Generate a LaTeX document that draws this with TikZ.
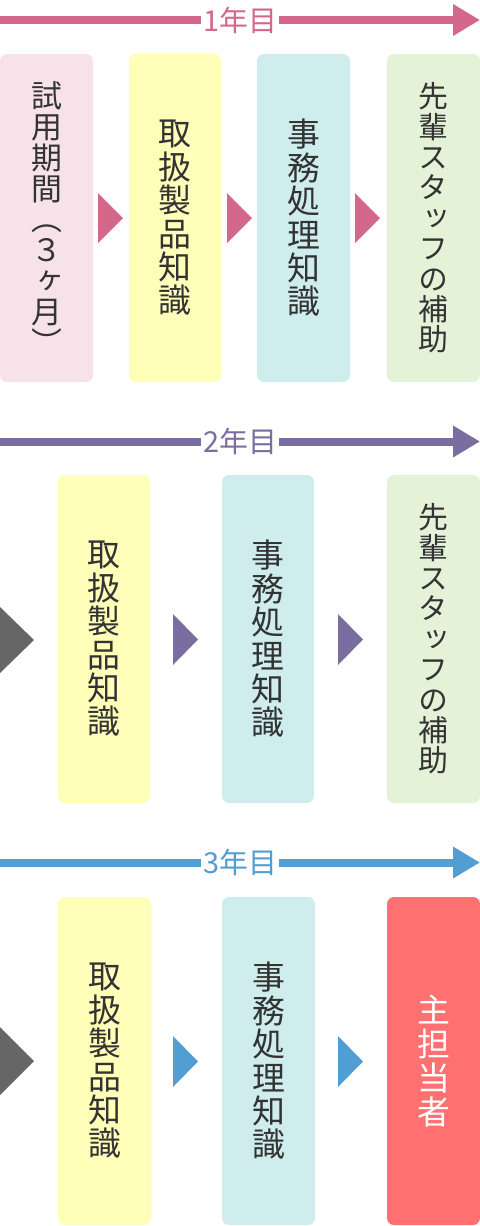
\documentclass[tikz,border=0pt]{standalone}
\usepackage{fontspec}
\usetikzlibrary{arrows.meta}
\newfontfamily\jp{Noto Sans CJK JP}
\newfontfamily\jpv[RawFeature=+vert]{Noto Sans CJK JP}
\definecolor{pinkline}{HTML}{D4688A}
\definecolor{purpleline}{HTML}{7A6EA0}
\definecolor{blueline}{HTML}{519ED2}
\definecolor{grayarrow}{HTML}{666666}
\definecolor{boxpink}{HTML}{F7E2E9}
\definecolor{boxyellow}{HTML}{FFFFB9}
\definecolor{boxteal}{HTML}{CEEDEC}
\definecolor{boxgreen}{HTML}{E4F2D7}
\definecolor{boxred}{HTML}{FF7170}
\definecolor{txt}{HTML}{333333}
\tikzset{
  box/.style={rounded corners=7bp, inner sep=0pt, align=center, text=txt},
  rowone/.style={minimum height=328bp},
  narrow/.style={minimum width=93bp},
  sixchar/.style={font=\jpv\fontsize{33}{33.5}\selectfont},
  ninechar/.style={font=\jpv\fontsize{30}{30.5}\selectfont},
  fourchar/.style={font=\jpv\fontsize{33}{34}\selectfont},
  yearlabel/.style={fill=white, inner xsep=2bp, inner ysep=0pt, font=\jp\fontsize{29}{30}\selectfont},
  timeline/.style={line width=8bp},
  tiphead/.style={-{Triangle[length=27bp,width=30bp]}},
}
\begin{document}
\begin{tikzpicture}[x={(1bp,0)}, y={(0,-1bp)}]
\useasboundingbox (0,0) rectangle (480,1226);

% ---------- Year 1 ----------
\coordinate (s1) at (0,20);
\coordinate (e1) at (480,20);
\node[yearlabel, text=pinkline] (y1) at (240,20) {1年目};
\draw[timeline, pinkline] (s1) -- (y1.west);
\draw[timeline, pinkline, tiphead] (y1.east) -- (e1);

\node[box, fill=boxpink, narrow, rowone, font=\jpv\fontsize{31}{31}\selectfont] (b11) at (46.5,218)
  {試\\用\\期\\間\\︵\\３\\ヶ\\月\\︶};
\node[box, fill=boxyellow, minimum width=92bp, rowone, sixchar] (b12) at (175,218)
  {取\\扱\\製\\品\\知\\識};
\node[box, fill=boxteal, narrow, rowone, sixchar] (b13) at (303.5,218)
  {事\\務\\処\\理\\知\\識};
\node[box, fill=boxgreen, narrow, rowone, ninechar] (b14) at (433.5,218)
  {先\\輩\\ス\\タ\\ッ\\フ\\の\\補\\助};

\fill[pinkline] (98,193) -- (123,218) -- (98,243) -- cycle;
\fill[pinkline] (227,193) -- (252,218) -- (227,243) -- cycle;
\fill[pinkline] (355,193) -- (380,218) -- (355,243) -- cycle;

% ---------- Year 2 ----------
\coordinate (s2) at (0,441.5);
\coordinate (e2) at (480,441.5);
\node[yearlabel, text=purpleline] (y2) at (240,441.5) {2年目};
\draw[timeline, purpleline] (s2) -- (y2.west);
\draw[timeline, purpleline, tiphead] (y2.east) -- (e2);

\node[box, fill=boxyellow, minimum width=92bp, rowone, sixchar] (b21) at (104,639)
  {取\\扱\\製\\品\\知\\識};
\node[box, fill=boxteal, minimum width=92bp, rowone, sixchar] (b22) at (268,639)
  {事\\務\\処\\理\\知\\識};
\node[box, fill=boxgreen, narrow, rowone, ninechar] (b23) at (433.5,639)
  {先\\輩\\ス\\タ\\ッ\\フ\\の\\補\\助};

\fill[grayarrow] (0,607) -- (34,640) -- (0,673) -- cycle;
\fill[purpleline] (173,614) -- (198,639.5) -- (173,665) -- cycle;
\fill[purpleline] (338,614) -- (363,639.5) -- (338,665) -- cycle;

% ---------- Year 3 ----------
\coordinate (s3) at (0,862.5);
\coordinate (e3) at (480,862.5);
\node[yearlabel, text=blueline] (y3) at (240,862.5) {3年目};
\draw[timeline, blueline] (s3) -- (y3.west);
\draw[timeline, blueline, tiphead] (y3.east) -- (e3);

\node[box, fill=boxyellow, narrow, rowone, sixchar] (b31) at (104.5,1061)
  {取\\扱\\製\\品\\知\\識};
\node[box, fill=boxteal, narrow, rowone, sixchar] (b32) at (268.5,1061)
  {事\\務\\処\\理\\知\\識};
\node[box, fill=boxred, narrow, rowone, fourchar, text=white] (b33) at (433.5,1061)
  {主\\担\\当\\者};

\fill[grayarrow] (0,1027) -- (34,1061) -- (0,1095) -- cycle;
\fill[blueline] (173,1036) -- (198,1061.5) -- (173,1087) -- cycle;
\fill[blueline] (338,1036) -- (363,1061.5) -- (338,1087) -- cycle;
\end{tikzpicture}
\end{document}
